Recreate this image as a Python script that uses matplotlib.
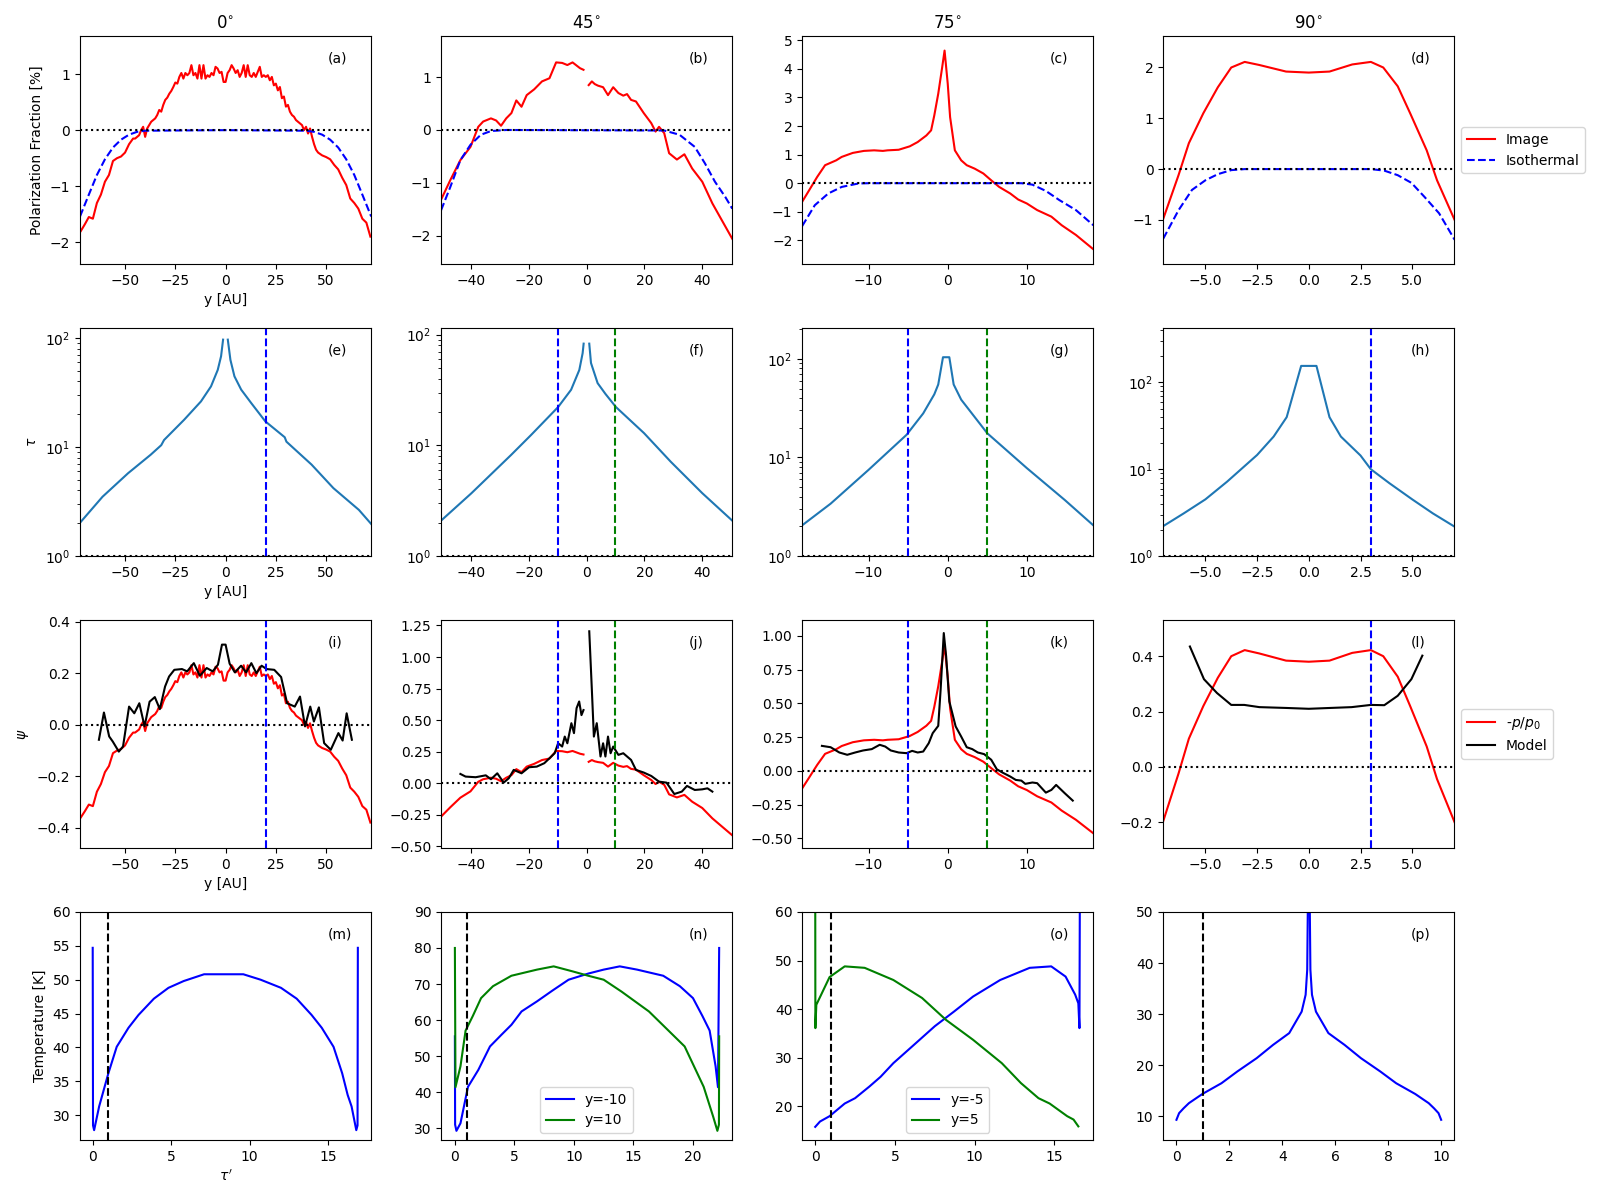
import numpy as np
import matplotlib
matplotlib.use("Agg")
import matplotlib.pyplot as plt

# ---------------- data ----------------
angles = ["0", "45", "75", "90"]
panel_tags = list("abcdefghijklmnop")
y_cuts = [[20], [-10, 10], [-5, 5], [3]]

# row 1: polarization fraction [%]
y_a = np.r_[-72:-45:2, -45:46, 46:73:2]
pol_a = [-1.80, -1.68, -1.55, -1.58, -1.30, -1.15, -0.92, -0.80, -0.55, -0.50,
         -0.47, -0.40, -0.25, -0.15,
         -0.15, -0.12, -0.09, 0.0, 0.06, -0.12, 0.03, 0.09, 0.15, 0.18,
         0.21, 0.27, 0.36, 0.33, 0.45, 0.54, 0.58, 0.65, 0.70, 0.77,
         0.85, 0.83, 0.95, 1.02, 0.92, 1.02, 0.98, 1.02, 1.16, 0.98,
         1.02, 0.92, 1.16, 0.92, 1.16, 0.92, 0.98, 0.95, 1.02, 0.98,
         1.13, 1.10, 1.02, 1.04, 0.86, 0.86, 1.02, 1.07, 1.16, 1.10,
         1.02, 1.07, 0.95, 1.02, 1.16, 0.95, 1.16, 0.98, 0.95, 1.02,
         0.95, 1.04, 1.13, 0.95, 0.98, 0.95, 0.98, 0.89, 0.95, 0.80,
         0.83, 0.71, 0.77, 0.57, 0.60, 0.42, 0.45, 0.33, 0.27, 0.24,
         0.18, 0.15, 0.12, 0.09, 0.0, 0.06, -0.06, 0.03, -0.12, -0.25,
         -0.35,
         -0.40, -0.45, -0.48, -0.52, -0.62, -0.70, -0.85, -0.98, -1.22, -1.30,
         -1.40, -1.58, -1.65, -1.90]
iso_y_a = [-72.4, -68, -64, -60, -56, -52, -48, -44, -40, 0, 40, 44, 48, 52, 56, 60, 64, 68, 72.4]
iso_a = [-1.54, -1.15, -0.80, -0.52, -0.31, -0.17, -0.08, -0.03, -0.01, 0.0,
         -0.01, -0.03, -0.08, -0.17, -0.31, -0.52, -0.80, -1.15, -1.54]

y_b = [-50.5, -47.3, -43.8, -40.3, -37.6, -35.9, -33.2, -31.4, -29.7, -27.9,
       -26.1, -24.4, -22.6, -20.8, -18.2, -15.5, -12.9, -10.6, -8.5, -6.7,
       -4.9, -2.3, -1.1, np.nan,
       0.7, 1.8, 2.8, 3.9, 5.7, 7.4, 9.2, 11.0, 12.7, 14.0,
       15.4, 17.1, 19.8, 22.4, 23.9, 25.1, 26.9, 28.6, 31.3, 33.9,
       36.6, 40.1, 43.6, 47.2, 50.5]
pol_b = [-1.32, -0.95, -0.57, -0.32, 0.06, 0.16, 0.22, 0.18, 0.08, 0.22,
         0.32, 0.56, 0.44, 0.66, 0.77, 0.92, 0.98, 1.28, 1.27, 1.23,
         1.28, 1.17, 1.14, np.nan,
         0.85, 0.92, 0.87, 0.84, 0.81, 0.66, 0.81, 0.70, 0.65, 0.68,
         0.57, 0.54, 0.32, 0.13, -0.03, 0.06, -0.06, -0.44, -0.56, -0.46,
         -0.73, -0.98, -1.39, -1.74, -2.06]
iso_y_b = [-50.5, -47.3, -43.8, -40.3, -36.7, -33.2, -27.9, 26.9, 32.2, 37.5, 41.0, 44.5, 48.1, 50.5]
iso_b = [-1.52, -1.08, -0.57, -0.28, -0.09, -0.02, 0.0, -0.01, -0.09, -0.32, -0.63, -0.98, -1.27, -1.49]

y_c = [-18.4, -17.5, -16.5, -15.5, -14.1, -13.4, -12.0, -10.6, -9.3, -8.2,
       -7.6, -6.2, -4.8, -3.8, -2.7, -2.1, -1.7, -1.2, -0.7, -0.4,
       0.0, 0.3, 0.9, 1.7, 2.4, 3.4, 4.5, 5.5, 6.5, 7.9,
       8.9, 10.0, 11.3, 13.1, 14.4, 16.2, 18.4]
pol_c = [-0.65, -0.24, 0.22, 0.63, 0.80, 0.92, 1.06, 1.13, 1.15, 1.13,
         1.15, 1.17, 1.29, 1.44, 1.67, 1.85, 2.37, 3.13, 4.06, 4.64,
         3.48, 2.31, 1.15, 0.80, 0.63, 0.51, 0.34, 0.10, -0.13, -0.36,
         -0.57, -0.71, -0.94, -1.17, -1.47, -1.81, -2.31]
iso_y_c = [-18.4, -16.8, -15.1, -13.4, -11.3, -10.0, 9.3, 10.7, 12.4, 14.1, 16.2, 18.4]
iso_c = [-1.50, -0.77, -0.36, -0.13, -0.01, 0.0, 0.0, -0.05, -0.27, -0.59, -0.94, -1.47]

y_d = [-7.04, -6.3, -5.8, -5.1, -4.4, -3.75, -3.1, -2.4, -1.7, -1.1,
       0.0, 1.0, 2.1, 3.0, 3.6, 4.3, 4.9, 5.7, 6.2, 7.05]
pol_d = [-0.98, -0.12, 0.51, 1.10, 1.61, 2.00, 2.11, 2.05, 1.98, 1.92,
         1.90, 1.92, 2.06, 2.11, 2.00, 1.63, 1.10, 0.37, -0.22, -1.00]
iso_y_d = [-7.04, -6.3, -5.65, -5.0, -4.4, -3.75, -3.1, 3.0, 3.65, 4.3, 4.96, 5.6, 6.3, 7.05]
iso_d = [-1.37, -0.81, -0.41, -0.22, -0.10, -0.02, 0.0, 0.0, -0.03, -0.12, -0.27, -0.55, -0.87, -1.39]

# row 2: optical depth
y_e = [-72.4, -61.2, -48.5, -37.25, -32.0, -30.6, -20.6, -12.25, -7.25, -3.9,
       -2.25, -1.25, np.nan, 1.1, 2.4, 4.4, 7.75, 12.75, 19.75, 29.4,
       30.25, 42.75, 53.6, 66.3, 72.4]
tau_e = [2.02, 3.5, 5.75, 8.5, 10.4, 11.6, 17.8, 26.2, 36.0, 51.0,
         68.0, 96.6, np.nan, 96.6, 63.0, 44.5, 33.6, 25.3, 17.2, 12.3,
         11.2, 6.9, 4.2, 2.65, 1.97]
y_f = [-50.5, -40.0, -26.2, -19.3, -9.9, -5.4, -2.55, -1.4, -1.05, np.nan,
       0.9, 1.5, 3.8, 6.5, 10.15, 19.9, 29.2, 40.1, 50.5]
tau_f = [2.09, 3.69, 8.2, 12.4, 22.2, 31.8, 48.0, 68.0, 83.0, np.nan,
         83.0, 55.5, 36.5, 29.2, 22.2, 12.9, 7.1, 3.7, 2.09]
y_g = [-18.4, -14.8, -10.0, -5.2, -3.1, -1.7, -1.2, -0.6, 0.2, 0.75,
       1.7, 5.0, 10.0, 14.8, 18.4]
tau_g = [2.05, 3.4, 7.5, 17.0, 28.0, 43.7, 55.0, 104.0, 104.0, 55.0,
         38.6, 17.6, 7.8, 3.7, 2.05]
y_h = [-7.03, -6.05, -5.0, -3.95, -2.5, -1.7, -1.07, -0.37, 0.37, 1.0,
       1.55, 2.5, 3.0, 3.9, 5.0, 6.0, 7.05]
tau_h = [2.22, 3.1, 4.5, 7.2, 14.6, 23.8, 39.8, 155.0, 155.0, 39.8,
         23.8, 14.4, 10.0, 6.9, 4.5, 3.1, 2.18]

# row 3: psi, -p/p0 and model
psi_i = [-0.36, -0.336, -0.31, -0.316, -0.26, -0.23, -0.184, -0.16, -0.11, -0.10,
         -0.094, -0.08, -0.05, -0.03,
         -0.03, -0.024, -0.018, 0.0, 0.012, -0.024, 0.006, 0.018, 0.03, 0.036,
         0.042, 0.054, 0.072, 0.066, 0.09, 0.108, 0.116, 0.13, 0.14, 0.154,
         0.17, 0.166, 0.19, 0.204, 0.184, 0.204, 0.196, 0.204, 0.232, 0.196,
         0.204, 0.184, 0.232, 0.184, 0.232, 0.184, 0.196, 0.19, 0.204, 0.196,
         0.226, 0.22, 0.204, 0.208, 0.172, 0.172, 0.204, 0.214, 0.232, 0.22,
         0.204, 0.214, 0.19, 0.204, 0.232, 0.19, 0.232, 0.196, 0.19, 0.204,
         0.19, 0.208, 0.226, 0.19, 0.196, 0.19, 0.196, 0.178, 0.19, 0.16,
         0.166, 0.142, 0.154, 0.114, 0.12, 0.084, 0.09, 0.066, 0.054, 0.048,
         0.036, 0.03, 0.024, 0.018, 0.0, 0.012, -0.012, 0.006, -0.024, -0.05,
         -0.07,
         -0.08, -0.09, -0.096, -0.104, -0.124, -0.14, -0.17, -0.196, -0.244, -0.26,
         -0.28, -0.316, -0.33, -0.38]
mod_y_i = [-63.0, -60.5, -57.9, -56.1, -53.1, -51.0, -48.0, -45.4, -42.9, -40.3,
           -37.8, -35.2, -32.7, -30.1, -28.1, -25.5, -21.7, -19.1, -15.8, -12.8,
           -9.4, -6.4, -3.8, -1.8, 0.0, 2.0, 4.6, 7.7, 10.2, 12.8,
           15.3, 17.9, 20.4, 24.2, 27.6, 30.6, 34.4, 37.0, 39.5, 42.1,
           43.9, 46.4, 49.0, 52.3, 56.1, 58.2, 60.2, 62.8]
mod_i = [-0.058, 0.048, -0.045, -0.065, -0.104, -0.084, 0.071, 0.045, 0.084, -0.006,
         0.09, 0.108, 0.061, 0.149, 0.188, 0.214, 0.217, 0.208, 0.240, 0.191,
         0.221, 0.208, 0.234, 0.312, 0.312, 0.238, 0.204, 0.230, 0.204, 0.240,
         0.201, 0.230, 0.217, 0.214, 0.186, 0.084, 0.071, 0.110, -0.006, 0.071,
         0.013, 0.068, -0.071, -0.097, -0.032, -0.061, 0.045, -0.058]

psi_j = [-0.264, -0.19, -0.114, -0.064, 0.012, 0.032, 0.044, 0.036, 0.016, 0.044,
         0.064, 0.112, 0.088, 0.132, 0.154, 0.184, 0.196, 0.256, 0.254, 0.246,
         0.256, 0.234, 0.228, np.nan,
         0.17, 0.184, 0.174, 0.168, 0.162, 0.132, 0.162, 0.14, 0.13, 0.136,
         0.114, 0.108, 0.064, 0.026, -0.006, 0.012, -0.012, -0.088, -0.112, -0.092,
         -0.146, -0.196, -0.278, -0.348, -0.412]
mod_y_j = [-43.8, -42.0, -38.5, -35.0, -33.2, -31.0, -28.8, -27.0, -25.3, -22.6,
           -20.0, -17.3, -14.7, -12.9, -11.1, -9.9, -8.5, -7.6, -6.7, -5.3,
           -4.4, -3.5, -2.6, -1.8, -1.1, np.nan, 0.9, 1.8, 2.5, 3.5,
           4.8, 5.7, 6.5, 7.4, 8.3, 9.2, 11.0, 12.7, 15.4, 17.1,
           19.8, 22.4, 25.1, 27.7, 30.4, 33.0, 34.8, 37.5, 40.1, 41.9, 43.6]
mod_j = [0.074, 0.053, 0.048, 0.063, 0.032, 0.079, 0.005, 0.04, 0.106, 0.079,
         0.127, 0.132, 0.159, 0.198, 0.238, 0.317, 0.291, 0.37, 0.317, 0.476,
         0.397, 0.595, 0.648, 0.54, 0.58, np.nan, 1.204, 0.741, 0.37, 0.476,
         0.212, 0.317, 0.212, 0.37, 0.238, 0.291, 0.225, 0.238, 0.185, 0.106,
         0.085, 0.058, 0.013, 0.005, -0.085, -0.066, -0.021, -0.053, -0.048, -0.04, -0.066]

psi_k = [-0.13, -0.048, 0.044, 0.126, 0.16, 0.184, 0.212, 0.226, 0.23, 0.226,
         0.23, 0.234, 0.258, 0.288, 0.334, 0.37, 0.474, 0.626, 0.812, 0.928,
         0.696, 0.462, 0.23, 0.16, 0.126, 0.102, 0.068, 0.02, -0.026, -0.072,
         -0.114, -0.142, -0.188, -0.234, -0.294, -0.362, -0.462]
mod_y_k = [-15.9, -14.8, -13.7, -12.7, -11.7, -10.7, -9.6, -8.6, -7.9, -7.2,
           -6.2, -5.2, -4.5, -3.8, -3.1, -2.4, -1.9, -1.2, -0.9, -0.5,
           -0.2, 0.2, 1.0, 1.7, 2.4, 3.1, 3.8, 4.6, 5.5, 6.2,
           6.9, 7.9, 8.6, 9.3, 9.8, 10.7, 11.3, 12.4, 13.1, 13.7,
           14.8, 15.8]
mod_k = [0.185, 0.175, 0.136, 0.119, 0.136, 0.151, 0.161, 0.193, 0.18, 0.151,
         0.136, 0.131, 0.148, 0.136, 0.143, 0.205, 0.279, 0.333, 0.60, 1.02,
         0.847, 0.514, 0.329, 0.254, 0.175, 0.161, 0.136, 0.124, 0.082, 0.012,
         -0.012, -0.042, -0.067, -0.072, -0.096, -0.086, -0.091, -0.161, -0.141, -0.104,
         -0.166, -0.22]

psi_l = [-0.196, -0.024, 0.102, 0.22, 0.322, 0.40, 0.422, 0.41, 0.396, 0.384,
         0.38, 0.384, 0.412, 0.422, 0.40, 0.326, 0.22, 0.074, -0.044, -0.20]
mod_y_l = [-5.75, -5.07, -4.44, -3.75, -3.12, -2.39, -1.08, 0.0, 1.02, 2.07,
           3.0, 3.65, 4.3, 4.96, 5.49]
mod_l = [0.435, 0.317, 0.267, 0.224, 0.224, 0.216, 0.213, 0.21, 0.213, 0.216,
         0.224, 0.223, 0.257, 0.317, 0.402]

# row 4: temperature along the line of sight
tp_m = [0.0, 0.02, 0.09, 0.41, 1.0, 1.53, 2.28, 2.92, 3.9, 4.83, 5.8, 7.1,
        9.6, 10.7, 12.0, 13.0, 13.95, 14.6, 15.35, 15.9, 16.25, 16.5, 16.8, 16.88, 16.9]
temp_m = [54.7, 28.5, 27.8, 31.3, 36.2, 40.1, 42.9, 44.8, 47.2, 48.8, 49.8, 50.8,
          50.8, 50.0, 48.8, 47.2, 44.8, 42.9, 40.1, 36.2, 33.0, 31.3, 27.8, 28.5, 54.7]

tp_n_lo = [0.0, 0.02, 0.13, 0.47, 1.1, 1.97, 2.95, 3.9, 4.75, 5.6, 6.9, 8.2, 9.55,
           11.2, 12.5, 13.85, 15.3, 17.5, 18.9, 20.0, 20.8, 21.4, 21.9, 22.1, 22.2]
temp_n_lo = [55.5, 31.0, 29.3, 31.4, 41.5, 46.2, 52.7, 55.9, 58.7, 62.4, 65.2, 68.2, 71.2,
             72.9, 74.0, 74.9, 74.0, 72.3, 69.4, 66.1, 61.1, 57.1, 47.2, 41.4, 80.0]
tp_n_hi = [0.0, 0.05, 0.47, 0.9, 1.5, 2.2, 3.2, 4.75, 6.9, 8.3, 9.9, 11.2,
           12.5, 14.0, 16.3, 17.6, 19.3, 20.9, 21.7, 22.05, 22.18, 22.2]
temp_n_hi = [80.0, 41.4, 47.2, 57.1, 61.1, 66.1, 69.4, 72.3, 74.0, 74.9, 73.5, 72.3,
             71.2, 67.9, 62.4, 58.2, 52.7, 41.5, 33.2, 29.3, 31.0, 55.5]

tp_o_lo = [0.0, 0.3, 0.9, 1.85, 2.5, 3.4, 4.1, 4.9, 6.1, 7.5, 8.7, 9.9,
           11.6, 13.45, 14.8, 15.7, 16.3, 16.5, 16.57, 16.6]
temp_o_lo = [15.8, 16.9, 18.0, 20.6, 21.7, 24.1, 26.1, 28.9, 32.4, 36.5, 39.5, 42.6,
             46.0, 48.5, 48.8, 46.7, 43.0, 41.2, 36.1, 70.0]
tp_o_hi = [0.0, 0.01, 0.07, 0.9, 1.85, 3.1, 4.9, 6.7, 8.2, 9.9, 11.7, 12.9,
           14.0, 14.7, 15.8, 16.2, 16.5]
temp_o_hi = [70.0, 36.1, 40.9, 46.6, 48.8, 48.5, 46.0, 42.3, 37.8, 33.7, 28.9, 24.8,
             21.7, 20.6, 18.0, 17.3, 15.9]

tp_p = [0.0, 0.1, 0.27, 0.47, 0.98, 1.7, 2.3, 3.03, 3.65, 4.26, 4.73, 4.88, 4.94, 4.98,
        5.02, 5.06, 5.12, 5.27, 5.74, 6.35, 6.97, 7.7, 8.3, 9.02, 9.53, 9.73, 9.9, 10.0]
temp_p = [9.35, 10.65, 11.6, 12.6, 14.4, 16.5, 18.8, 21.4, 24.0, 26.3, 30.5, 33.8, 38.7, 60.0,
          60.0, 38.7, 33.8, 30.5, 26.3, 24.0, 21.4, 18.8, 16.5, 14.4, 12.6, 11.6, 10.65, 9.35]

# ---------------- plot ----------------
fig, axes = plt.subplots(4, 4, figsize=(16, 12))
plt.subplots_adjust(left=0.05, right=0.909, top=0.97, bottom=0.05, wspace=0.24, hspace=0.28)

xlims = [(-72.4, 72.4), (-50.5, 50.5), (-18.4, 18.4), (-7.04, 7.04)]

# row 1
row1 = [(y_a, pol_a, iso_y_a, iso_a), (y_b, pol_b, iso_y_b, iso_b),
        (y_c, pol_c, iso_y_c, iso_c), (y_d, pol_d, iso_y_d, iso_d)]
ylim1 = [(-2.39, 1.68), (-2.54, 1.78), (-2.83, 5.15), (-1.87, 2.62)]
for j, (yy, pp, iy, ii) in enumerate(row1):
    ax = axes[0, j]
    ax.plot(yy, pp, "r-", label="Image")
    ax.plot(iy, ii, "b--", label="Isothermal")
    ax.axhline(0, color="k", ls=":")
    ax.set_xlim(*xlims[j])
    ax.set_ylim(*ylim1[j])
    ax.set_title(angles[j] + r"$^{\circ}$")
axes[0, 3].legend(loc="center left", bbox_to_anchor=(1.0, 0.5))

# row 2
row2 = [(y_e, tau_e), (y_f, tau_f), (y_g, tau_g), (y_h, tau_h)]
ylim2 = [123.6, 115.0, 206.0, 424.0]
for j, (yy, tt) in enumerate(row2):
    ax = axes[1, j]
    ax.plot(yy, tt, color="C0")
    ax.set_yscale("log")
    ax.axhline(1, color="k", ls=":")
    ax.set_xlim(*xlims[j])
    ax.set_ylim(1, ylim2[j])

# row 3
row3 = [(y_a, psi_i, mod_y_i, mod_i), (y_b, psi_j, mod_y_j, mod_j),
        (y_c, psi_k, mod_y_k, mod_k), (y_d, psi_l, mod_y_l, mod_l)]
ylim3 = [(-0.479, 0.408), (-0.513, 1.294), (-0.571, 1.117), (-0.293, 0.531)]
for j, (yy, ps, my, mm) in enumerate(row3):
    ax = axes[2, j]
    ax.plot(yy, ps, "r-", label=r"-$p/p_0$")
    ax.plot(my, mm, "k-", label="Model")
    ax.axhline(0, color="k", ls=":")
    ax.set_xlim(*xlims[j])
    ax.set_ylim(*ylim3[j])
axes[2, 3].legend(loc="center left", bbox_to_anchor=(1.0, 0.5))

# vertical cuts for rows 2 and 3
for j, cuts in enumerate(y_cuts):
    for r in (1, 2):
        for k, c in enumerate(cuts):
            axes[r, j].axvline(c, color="b" if k == 0 else "g", ls="--")

# row 4
ax = axes[3, 0]
ax.plot(tp_m, temp_m, "b-")
ax.set_ylim(26.35, 60)
ax.set_xlim(-0.81, 17.75)

ax = axes[3, 1]
ax.plot(tp_n_lo, temp_n_lo, "b-", label="y=-10")
ax.plot(tp_n_hi, temp_n_hi, "g-", label="y=10")
ax.set_ylim(26.76, 90)
ax.set_xlim(-1.16, 23.3)
ax.legend(loc="lower center")

ax = axes[3, 2]
ax.plot(tp_o_lo, temp_o_lo, "b-", label="y=-5")
ax.plot(tp_o_hi, temp_o_hi, "g-", label="y=5")
ax.set_ylim(13.1, 60)
ax.set_xlim(-0.82, 17.44)
ax.legend(loc="lower center")

ax = axes[3, 3]
ax.plot(tp_p, temp_p, "b-")
ax.set_ylim(5.4, 50)
ax.set_xlim(-0.5, 10.5)

for j in range(4):
    axes[3, j].axvline(1, color="k", ls="--")

# labels
for i in range(4):
    for j in range(4):
        axes[i, j].text(0.85, 0.9, "(%s)" % panel_tags[4 * i + j],
                        transform=axes[i, j].transAxes, va="center")
for i in range(3):
    axes[i, 0].set_xlabel("y [AU]")
axes[3, 0].set_xlabel(r"$\tau'$")
axes[0, 0].set_ylabel("Polarization Fraction [%]")
axes[1, 0].set_ylabel(r"$\tau$")
axes[2, 0].set_ylabel(r"$\psi$")
axes[3, 0].set_ylabel("Temperature [K]")

plt.savefig("out.png", dpi=100)
